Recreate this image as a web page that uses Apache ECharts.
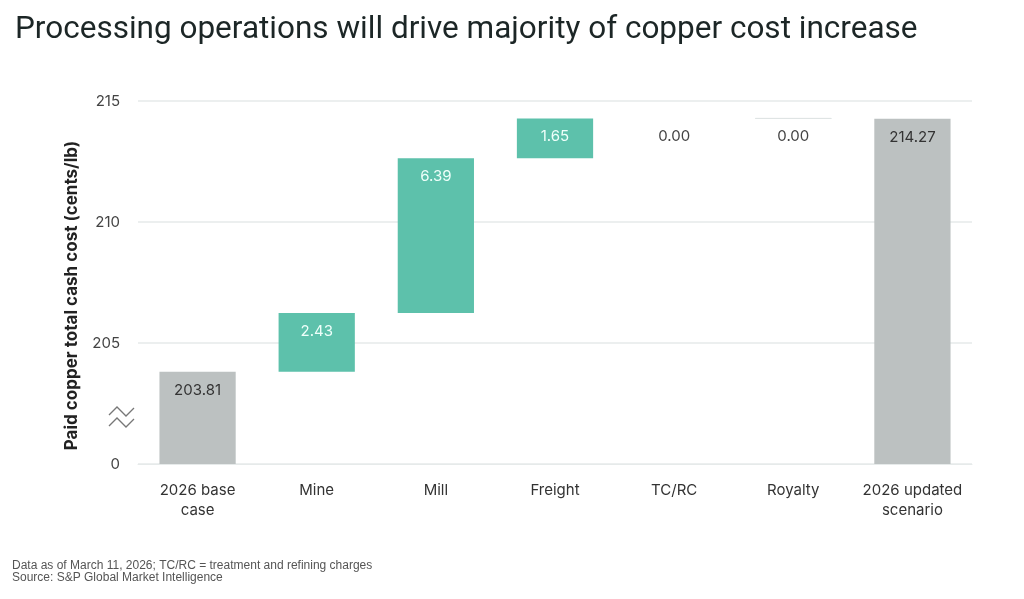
<!DOCTYPE html>
<html>
<head>
<meta charset="utf-8">
<script src="https://cdn.jsdelivr.net/npm/echarts@6/dist/echarts.min.js"></script>
<style>
  html, body { margin: 0; padding: 0; background: #fff; }
  #main { width: 1024px; height: 599px; }
</style>
</head>
<body>
<div id="main"></div>
<script>
var categories = ['2026 base\ncase', 'Mine', 'Mill', 'Freight', 'TC/RC', 'Royalty', '2026 updated\nscenario']
var baseTotal = 203.81
var increments = [2.43, 6.39, 1.65, 0.00, 0.00]
var finalTotal = 214.27
// axis: 200 is drawn as "0" (broken axis)
var yTicks = [200, 205, 210, 215]

var myChart = echarts.init(document.getElementById('main'))

// build helper (invisible) and visible parts of the waterfall
var helper = [0]
var visible = [baseTotal]
var running = baseTotal
increments.forEach(function (v) {
    helper.push(running)
    visible.push(v)
    running += v
})
helper.push(0)
visible.push(finalTotal)

var TEAL = '#5dc1ab'
var GREY = '#bcc1c1'

var visibleData = visible.map(function (v, i) {
    var isTotal = (i === 0 || i === visible.length - 1)
    var item = {
        value: v,
        itemStyle: { color: isTotal ? GREY : TEAL },
        label: { color: isTotal ? '#333' : (v === 0 ? '#444' : '#effffa') }
    }
    // faint line on top of the royalty step
    if (categories[i] === 'Royalty') {
        item.itemStyle.borderColor = '#dfe4e4'
        item.itemStyle.borderWidth = 1
    }
    return item
})

var options = {
    backgroundColor: '#fff',
    animation: false,
    title: {
        text: 'Processing operations will drive majority of copper cost increase',
        left: 10,
        top: 9,
        textStyle: {
            fontFamily: 'Roboto',
            fontWeight: 'normal',
            fontSize: 31.5,
            color: '#1c2626'
        }
    },
    grid: {
        left: 138,
        right: 52,
        top: 101,
        bottom: 135
    },
    xAxis: {
        type: 'category',
        data: categories,
        axisLine: { show: true, lineStyle: { color: '#e6eaea' } },
        axisTick: { show: false },
        axisLabel: {
            interval: 0,
            fontFamily: 'Inter',
            fontSize: 15,
            color: '#333',
            margin: 16,
            lineHeight: 20
        }
    },
    yAxis: {
        type: 'value',
        min: 200,
        max: 215,
        interval: 5,
        name: 'Paid copper total cash cost (cents/lb)',
        nameLocation: 'middle',
        nameGap: 58,
        nameTextStyle: {
            fontFamily: 'Inter',
            fontWeight: 'bold',
            fontSize: 17,
            color: '#222',
            padding: [0, 26, 0, 0]
        },
        axisLine: { show: false },
        axisTick: { show: false },
        axisLabel: {
            fontFamily: 'Inter',
            fontSize: 15,
            color: '#444',
            margin: 18,
            formatter: function (v) {
                return v === yTicks[0] ? '0' : String(v)
            }
        },
        splitLine: { lineStyle: { color: '#e6eaea', width: 1.5 } }
    },
    series: [{
        name: 'helper',
        type: 'bar',
        stack: 'wf',
        silent: true,
        barWidth: '64%',
        itemStyle: { color: 'transparent' },
        data: helper
    }, {
        name: 'value',
        type: 'bar',
        stack: 'wf',
        barWidth: '64%',
        label: {
            show: true,
            position: 'insideTop',
            distance: 11,
            fontFamily: 'Inter',
            fontSize: 15,
            formatter: function (p) {
                return p.value.toFixed(2)
            }
        },
        data: visibleData
    }],
    graphic: [{
        type: 'polyline',
        shape: { points: [[109, 415], [117, 407], [126, 416], [134, 408]] },
        style: { stroke: '#777', lineWidth: 1.3, fill: null }
    }, {
        type: 'polyline',
        shape: { points: [[109, 426], [117, 418], [126, 427], [134, 419]] },
        style: { stroke: '#777', lineWidth: 1.3, fill: null }
    }, {
        type: 'text',
        left: 12,
        top: 560,
        style: {
            text: 'Data as of March 11, 2026; TC/RC = treatment and refining charges\nSource: S&P Global Market Intelligence',
            fontFamily: 'Liberation Sans',
            fontSize: 12,
            lineHeight: 12,
            fill: '#555'
        }
    }]
}

myChart.setOption(options)
</script>
</body>
</html>
